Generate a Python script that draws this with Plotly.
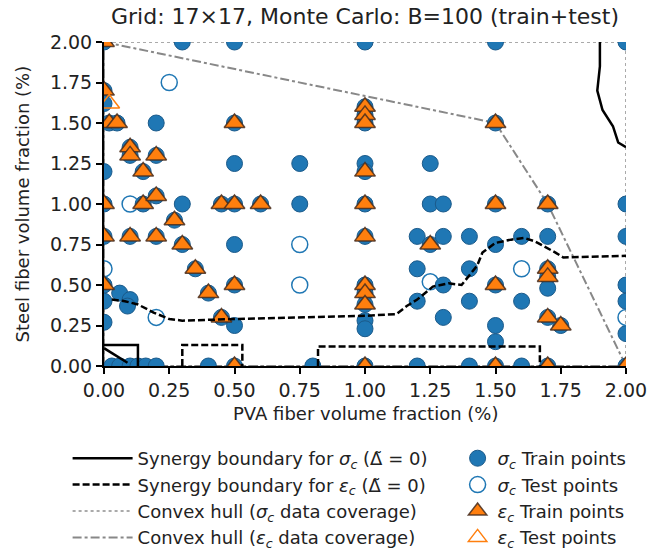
import plotly.graph_objects as go

# ---- data: experimental mix designs (PVA %, steel %) ----
sig_train_x = [0.0, 0.3, 0.5, 1.0, 1.5, 2.0,
               0.0, 0.0, 0.02, 0.05, 0.2, 0.5, 1.0, 1.0, 1.0, 1.5,
               0.1, 0.1, 0.2, 0.0, 0.15, 0.5, 0.75, 1.0, 1.0, 1.25,
               0.0, 0.15, 0.2, 0.3, 0.45, 0.5, 0.6, 0.75, 1.0, 1.25, 1.3, 1.5, 1.7, 2.0,
               0.27,
               0.0, 0.1, 0.2, 0.5, 0.3, 1.0, 1.2, 1.25, 1.3, 1.4, 1.5, 1.6, 1.7, 2.0,
               0.35, 0.5, 0.4, 0.45, 0.5,
               0.0, 0.06, 0.1, 0.09, 0.0, 0.0,
               1.0, 1.0, 1.0, 1.0, 1.0,
               1.2, 1.3, 1.2, 1.3, 1.4, 1.5, 1.7, 1.7, 1.7, 1.4, 1.6, 1.5, 1.5, 1.7, 1.75,
               2.0, 2.0, 2.0,
               0.03, 0.06, 0.1, 0.13, 0.16, 0.2, 0.4, 0.5, 0.8, 1.0, 1.2, 1.4, 1.5, 1.6, 1.7, 2.0]
sig_train_y = [2.0, 2.0, 2.0, 2.0, 2.0, 2.0,
               1.7, 1.62, 1.5, 1.5, 1.5, 1.5, 1.6, 1.55, 1.5, 1.5,
               1.35, 1.3, 1.3, 1.2, 1.2, 1.25, 1.25, 1.25, 1.2, 1.25,
               1.0, 1.0, 1.05, 1.0, 1.0, 1.0, 1.0, 1.0, 1.0, 1.0, 1.0, 1.0, 1.0, 1.0,
               0.9,
               0.8, 0.8, 0.8, 0.75, 0.75, 0.8, 0.8, 0.75, 0.8, 0.8, 0.75, 0.8, 0.8, 0.8,
               0.6, 0.5, 0.45, 0.3, 0.25,
               0.5, 0.45, 0.41, 0.37, 0.27, 0.4,
               0.5, 0.45, 0.38, 0.28, 0.23,
               0.6, 0.5, 0.4, 0.3, 0.6, 0.5, 0.6, 0.55, 0.48, 0.4, 0.4, 0.25, 0.15, 0.3, 0.25,
               0.5, 0.4, 0.2,
               0.0, 0.0, 0.0, 0.0, 0.0, 0.0, 0.0, 0.0, 0.0, 0.0, 0.0, 0.0, 0.0, 0.0, 0.0, 0.0]

sig_test_x = [0.25, 0.1, 0.75, 0.75, 0.0, 0.2, 1.25, 1.6, 2.0]
sig_test_y = [1.75, 1.0, 0.75, 0.5, 0.6, 0.3, 0.52, 0.6, 0.3]

eps_train_x = [0.0, 0.0, 0.02, 0.05, 0.5, 1.0, 1.0, 1.0, 1.5,
               0.1, 0.1, 0.2, 0.15, 1.0,
               0.0, 0.15, 0.2, 0.45, 0.5, 0.6, 1.0, 1.5, 1.7,
               0.27, 0.0, 0.1, 0.2, 0.3, 1.0, 1.25,
               0.35, 0.5, 0.4, 0.45, 0.0,
               1.0, 1.0, 1.0, 1.5, 1.7, 1.7, 1.7, 1.75,
               0.5, 1.0, 1.5, 1.7, 2.0]
eps_train_y = [2.0, 1.7, 1.5, 1.5, 1.5, 1.6, 1.55, 1.5, 1.5,
               1.35, 1.3, 1.3, 1.2, 1.2,
               1.0, 1.0, 1.05, 1.0, 1.0, 1.0, 1.0, 1.0, 1.0,
               0.9, 0.8, 0.8, 0.8, 0.75, 0.8, 0.75,
               0.6, 0.5, 0.45, 0.3, 0.5,
               0.5, 0.45, 0.38, 0.5, 0.6, 0.55, 0.3, 0.25,
               0.0, 0.0, 0.0, 0.0, 0.0]

eps_test_x = [0.02]
eps_test_y = [1.62]

# ---- synergy boundaries (Delta = 0 contours) ----
sig_bnd_x = [1.90, 1.90, 1.89, 1.91, 1.95, 1.97, 2.0, None, 0.0, 0.13, 0.13, None, 0.0, 0.09]
sig_bnd_y = [2.0, 1.85, 1.70, 1.58, 1.48, 1.38, 1.35, None, 0.13, 0.13, 0.0, None, 0.11, 0.02]

eps_bnd_x = [0.03, 0.08, 0.13, 0.19, 0.25, 0.3, 0.5, 0.8, 1.0, 1.12, 1.16, 1.2, 1.26, 1.32, 1.37,
             1.43, 1.45, 1.5, 1.56, 1.61, 1.65, 1.73, 1.76, 2.0,
             None, 0.30, 0.30, 0.53, 0.53,
             None, 0.82, 0.82, 1.67, 1.67]
eps_bnd_y = [0.41, 0.40, 0.38, 0.33, 0.29, 0.28, 0.29, 0.30, 0.31, 0.32, 0.37, 0.41, 0.49, 0.51, 0.50,
             0.62, 0.70, 0.76, 0.78, 0.79, 0.77, 0.70, 0.67, 0.68,
             None, 0.0, 0.13, 0.13, 0.0,
             None, 0.0, 0.12, 0.12, 0.0]

# ---- convex hulls of the data coverage ----
sig_hull_x = [0.0, 2.0, 2.0, 0.0, 0.0]
sig_hull_y = [0.0, 0.0, 2.0, 2.0, 0.0]
eps_hull_x = [0.0, 0.0, 1.5, 1.7, 2.0, 0.0]
eps_hull_y = [0.0, 2.0, 1.5, 1.0, 0.0, 0.0]

x_ticks = [0.0, 0.25, 0.5, 0.75, 1.0, 1.25, 1.5, 1.75, 2.0]
y_ticks = [0.0, 0.25, 0.5, 0.75, 1.0, 1.25, 1.5, 1.75, 2.0]

BLUE = "#1f77b4"
ORANGE = "#ff7f0e"
FONT = "DejaVu Sans"
SC = "<i>σ</i><sub><i>c</i></sub>"
EC = "<i>ε</i><sub><i>c</i></sub>"
DT = "Δ\u0303"

fig = go.Figure()

fig.add_trace(go.Scatter(x=sig_hull_x, y=sig_hull_y, mode="lines",
                         line=dict(color="#aaaaaa", width=2, dash="dot"),
                         name=f"Convex hull ({SC} data coverage)", legend="legend", legendrank=3))
fig.add_trace(go.Scatter(x=eps_hull_x, y=eps_hull_y, mode="lines",
                         line=dict(color="#888888", width=2, dash="dashdot"),
                         name=f"Convex hull ({EC} data coverage)", legend="legend", legendrank=4))

fig.add_trace(go.Scatter(x=sig_train_x, y=sig_train_y, mode="markers",
                         marker=dict(symbol="circle", size=16, color=BLUE,
                                     line=dict(color="#1b5a8a", width=1)),
                         name=f"{SC} Train points", legend="legend2", legendrank=1))
fig.add_trace(go.Scatter(x=sig_test_x, y=sig_test_y, mode="markers",
                         marker=dict(symbol="circle-open", size=16, color=BLUE,
                                     line=dict(color=BLUE, width=1.5)),
                         name=f"{SC} Test points", legend="legend2", legendrank=2))
fig.add_trace(go.Scatter(x=eps_train_x, y=eps_train_y, mode="markers",
                         marker=dict(symbol="triangle-up", size=18, color=ORANGE,
                                     line=dict(color="rgba(70,45,30,0.85)", width=1.5)),
                         name=f"{EC} Train points", legend="legend2", legendrank=3))
fig.add_trace(go.Scatter(x=eps_test_x, y=eps_test_y, mode="markers",
                         marker=dict(symbol="triangle-up-open", size=18, color=ORANGE,
                                     line=dict(color=ORANGE, width=1.5)),
                         name=f"{EC} Test points", legend="legend2", legendrank=4))

fig.add_trace(go.Scatter(x=sig_bnd_x, y=sig_bnd_y, mode="lines",
                         line=dict(color="black", width=2.5),
                         name=f"Synergy boundary for {SC} ({DT} = 0)", legend="legend", legendrank=1))
fig.add_trace(go.Scatter(x=eps_bnd_x, y=eps_bnd_y, mode="lines",
                         line=dict(color="black", width=2.5, dash="7px,3px"),
                         name=f"Synergy boundary for {EC} ({DT} = 0)", legend="legend", legendrank=2))

axis_common = dict(range=[0, 2], showgrid=False, zeroline=False, showline=True,
                   linecolor="black", linewidth=2, ticks="outside", ticklen=6,
                   tickwidth=1.5, tickcolor="black", tickformat=".2f",
                   tickfont=dict(family=FONT, size=19, color="#222"),
                   mirror=False)

# axis titles placed as annotations so their position is fixed
axis_titles = [
    dict(text="PVA fiber volume fraction (%)", x=0.5, y=-0.148, textangle=0),
    dict(text="Steel fiber volume fraction (%)", x=-0.158, y=0.5, textangle=-90),
]
annotations = [dict(text=a["text"], x=a["x"], y=a["y"], xref="paper", yref="paper",
                    textangle=a["textangle"], showarrow=False,
                    xanchor="center", yanchor="middle",
                    font=dict(family=FONT, size=18, color="#222"))
               for a in axis_titles]

fig.update_layout(
    width=650, height=553,
    margin=dict(l=104, r=24, t=42, b=187, autoexpand=False),
    paper_bgcolor="white", plot_bgcolor="white",
    font=dict(family=FONT, color="#222"),
    title=dict(text="Grid: 17×17, Monte Carlo: B=100 (train+test)",
               x=0.5, xref="paper", y=1 - 16 / 553, yref="container",
               xanchor="center", yanchor="middle",
               font=dict(family=FONT, size=22, color="#222")),
    xaxis=dict(axis_common, tickvals=x_ticks),
    yaxis=dict(axis_common, tickvals=y_ticks),
    annotations=annotations,
    legend=dict(x=0.104, y=1 - 440 / 553, xref="container", yref="container",
                xanchor="left", yanchor="top",
                bgcolor="rgba(0,0,0,0)", itemwidth=60, tracegroupgap=0,
                font=dict(family=FONT, size=18, color="#222")),
    legend2=dict(x=0.704, y=1 - 440 / 553, xref="container", yref="container",
                 xanchor="left", yanchor="top",
                 bgcolor="rgba(0,0,0,0)", itemwidth=30, tracegroupgap=0,
                 font=dict(family=FONT, size=18, color="#222")),
    showlegend=True,
)

fig.write_html("out.html")
